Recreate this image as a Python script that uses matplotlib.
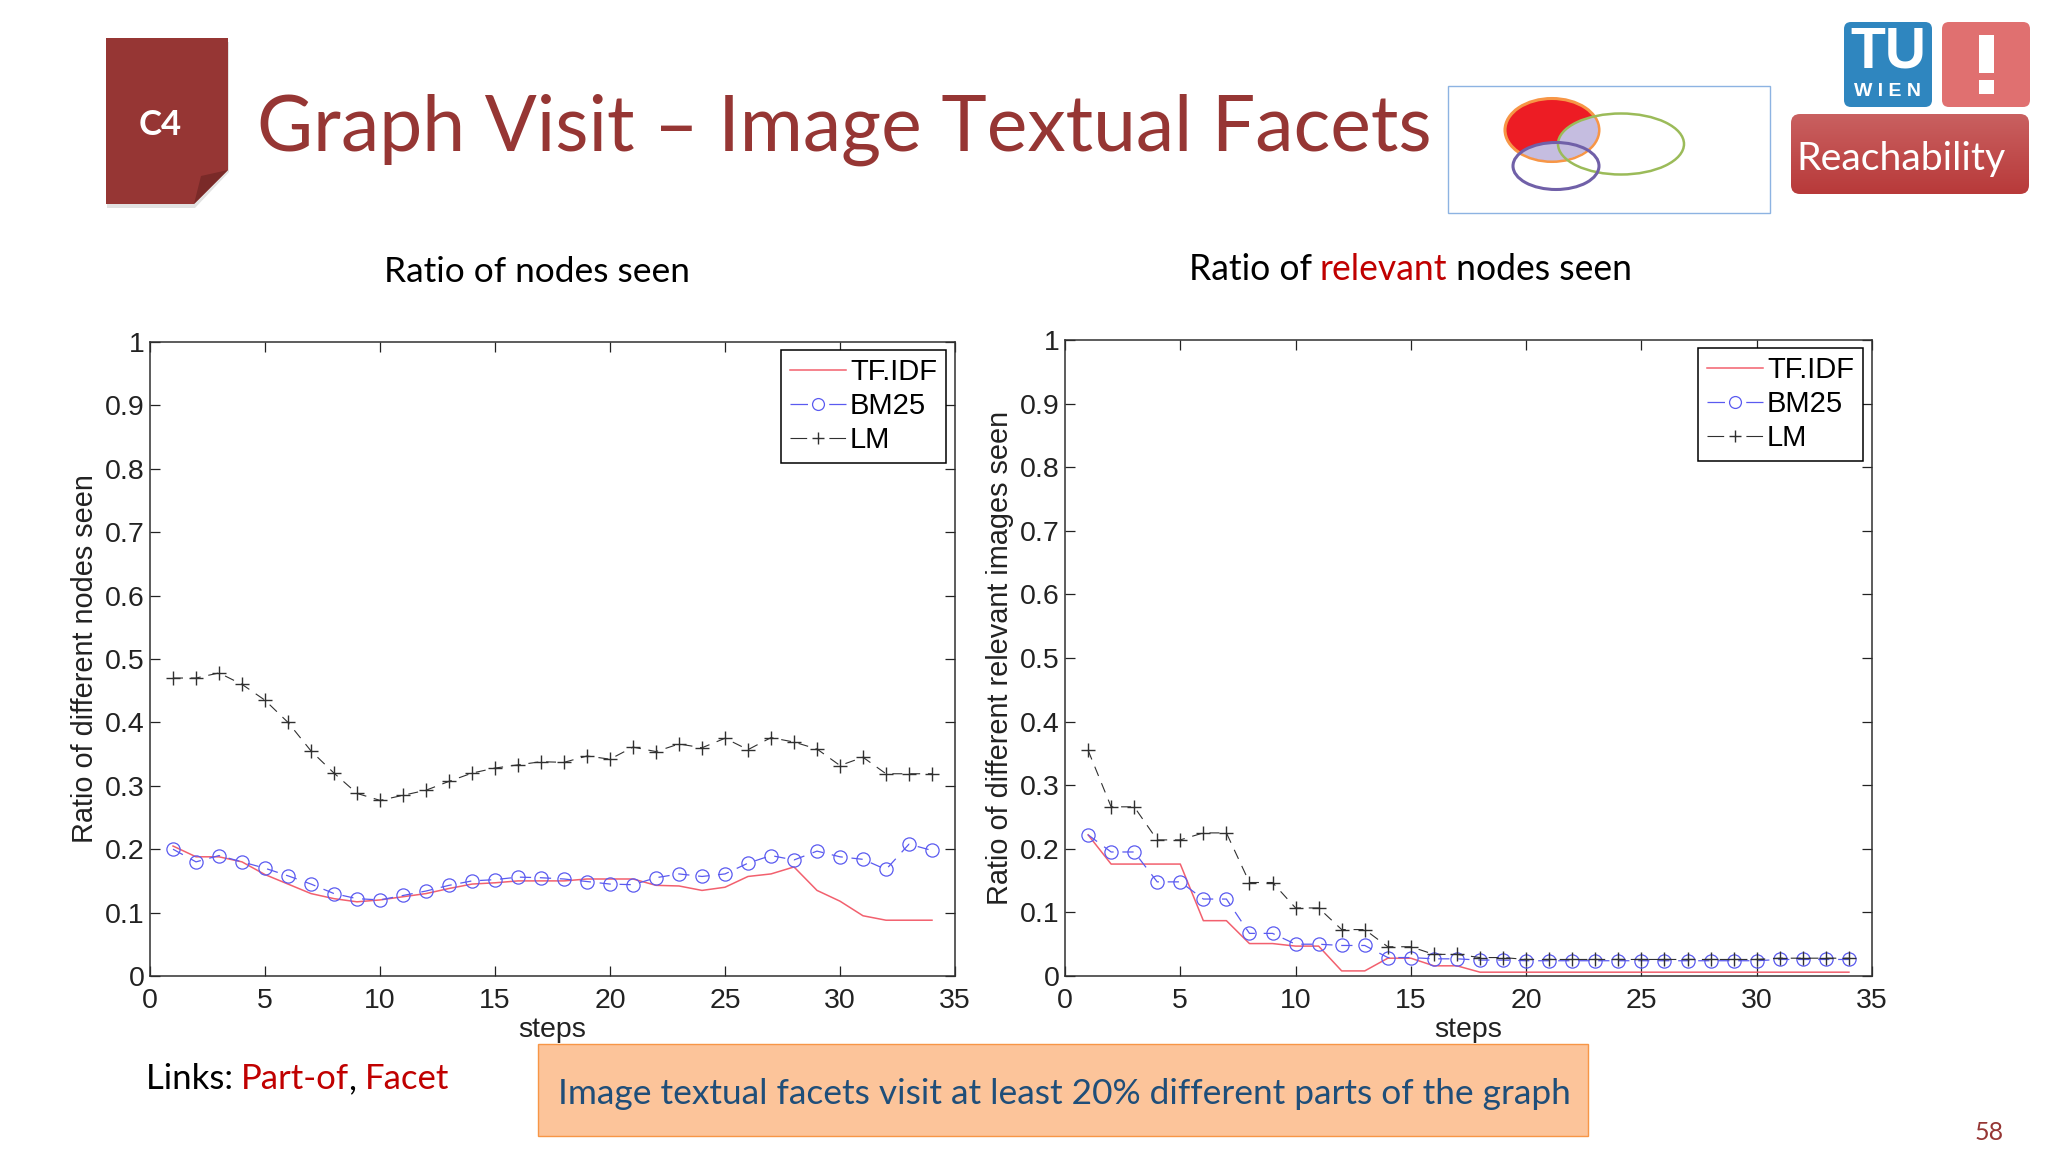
import numpy as np
import matplotlib
matplotlib.use('Agg')
import matplotlib.pyplot as plt
from matplotlib.patches import Polygon, Rectangle, Ellipse, FancyBboxPatch

steps = list(range(1, 35))

# left chart
nodes_tfidf = [.205, .188, .188, .18, .16, .145, .13, .122, .117, .12, .125, .13, .138, .145, .147, .15, .15,
               .15, .153, .153, .153, .143, .142, .135, .14, .157, .161, .172, .135, .118, .095, .088, .088, .088]
nodes_bm25 = [.2, .18, .19, .18, .17, .158, .145, .13, .122, .12, .127, .134, .143, .15, .152, .156, .155,
              .153, .149, .145, .144, .155, .161, .157, .161, .178, .19, .183, .197, .188, .184, .168, .208, .198]
nodes_lm = [.47, .47, .478, .46, .435, .40, .355, .32, .288, .277, .285, .293, .307, .32, .328, .333, .338,
            .337, .347, .342, .361, .354, .366, .36, .375, .357, .376, .369, .358, .332, .345, .319, .319, .319]

# right chart
rel_tfidf = [.222, .176, .176, .176, .176, .087, .087, .051, .051, .047, .047, .008, .008, .028, .028, .016, .016,
             .006, .006, .006, .006, .006, .006, .006, .006, .006, .006, .006, .006, .006, .006, .006, .006, .006]
rel_bm25 = [.222, .195, .195, .148, .148, .121, .121, .067, .067, .05, .05, .048, .048, .029, .029, .027, .027,
            .025, .025, .024, .024, .024, .024, .024, .024, .024, .024, .024, .024, .024, .026, .026, .026, .026]
rel_lm = [.355, .266, .266, .214, .214, .225, .225, .147, .147, .107, .107, .073, .073, .046, .046, .034, .034,
          .029, .029, .026, .026, .026, .026, .026, .026, .026, .026, .026, .026, .026, .028, .028, .028, .028]

xticks = [0, 5, 10, 15, 20, 25, 30, 35]
yticks = [0, .1, .2, .3, .4, .5, .6, .7, .8, .9, 1]
yticklabels = ['0', '0.1', '0.2', '0.3', '0.4', '0.5', '0.6', '0.7', '0.8', '0.9', '1']

W, H = 2048, 1152
RED = '#963634'
plt.rcParams['font.family'] = ['Liberation Sans', 'DejaVu Sans']

fig = plt.figure(figsize=(W / 100, H / 100), dpi=100)

# slide layer in pixel coordinates
bg = fig.add_axes([0, 0, 1, 1])
bg.set_xlim(0, W)
bg.set_ylim(H, 0)
bg.axis('off')


def rich_text(x, y, parts, size):
    # consecutive coloured pieces on one line
    r = fig.canvas.get_renderer()
    for s, c in parts:
        t = bg.text(x, y, s, color=c, fontsize=size, family='Lato', va='center', ha='left')
        t0 = bg.text(x, y, s.replace(' ', '.'), fontsize=size, family='Lato', alpha=0)
        x += t0.get_window_extent(r).width
        t0.remove()


# page icon
bg.add_patch(Polygon([(107, 42), (229, 42), (229, 172), (195, 208), (107, 208)], fc='#e2e2e2', ec='none'))
bg.add_patch(Polygon([(106, 38), (228, 38), (228, 170), (194, 204), (106, 204)], fc=RED, ec='none'))
bg.add_patch(Polygon([(201, 176), (228, 170), (194, 204)], fc='#7a2a28', ec='none'))
bg.text(160, 125, 'C4', color='white', fontsize=25, family='Lato', weight='bold', ha='center', va='center')
bg.text(257, 130, 'Graph Visit – Image Textual Facets', color=RED, fontsize=55.4, family='Lato', va='center')

# venn box
bg.add_patch(Rectangle((1448, 86), 322, 127, fc='white', ec='#8db3e2', lw=1))
bg.add_patch(Ellipse((1552, 130), 94, 63, fc='#ed1c24', ec='#f79646', lw=2.2))
clip_a = Ellipse((1552, 130), 92, 61, transform=bg.transData)
for el in [(1621, 144, 126, 61), (1556, 166, 86, 47)]:
    p = Ellipse((el[0], el[1]), el[2], el[3], fc='#c5bde0', ec='none')
    bg.add_patch(p)
    p.set_clip_path(clip_a)
    p.set_zorder(1.5)
bg.add_patch(Ellipse((1621, 144), 126, 61, fc='none', ec='#9bbb59', lw=1.8, zorder=2))
bg.add_patch(Ellipse((1556, 166), 86, 47, fc='none', ec='#7060a8', lw=2.2, zorder=2))

# logos
bg.add_patch(FancyBboxPatch((1849, 27), 78, 75, boxstyle='round,pad=5,rounding_size=7', fc='#2f86bf', ec='none'))
bg.text(1888, 52, 'TU', color='white', fontsize=41, weight='bold', ha='center', va='center')
bg.text(1888, 91, 'W I E N', color='white', fontsize=14, weight='bold', ha='center', va='center')
bg.add_patch(FancyBboxPatch((1947, 27), 78, 75, boxstyle='round,pad=5,rounding_size=7', fc='#e07070', ec='none'))
bg.add_patch(Rectangle((1979, 35), 15, 38, fc='white', ec='none'))
bg.add_patch(Rectangle((1979, 80), 15, 14, fc='white', ec='none'))

# reachability tab with gradient
tab = FancyBboxPatch((1796, 119), 228, 70, boxstyle='round,pad=5,rounding_size=9', fc='none', ec='none')
bg.add_patch(tab)
grad = np.linspace(0, 1, 64).reshape(-1, 1)
cmap = matplotlib.colors.LinearSegmentedColormap.from_list('tab', ['#c96060', '#b83a3a'])
im = bg.imshow(grad, extent=(1791, 2029, 194, 114), cmap=cmap, aspect='auto')
im.set_clip_path(tab)
bg.set_xlim(0, W)
bg.set_ylim(H, 0)
bg.text(1796, 159, 'Reachability', color='white', fontsize=28.3, family='Lato', va='center')

# headings
rich_text(384, 272, [('Ratio of nodes seen', 'black')], 25.4)
rich_text(1189, 269, [('Ratio of ', 'black'), ('relevant', '#c00000'), (' nodes seen', 'black')], 25.6)
rich_text(146, 1079, [('Links: ', 'black'), ('Part-of', '#c00000'), (', ', 'black'), ('Facet', '#c00000')], 25)

# callout
bg.add_patch(Rectangle((538, 1044), 1050, 92, fc='#fcc49a', ec='#f79646', lw=1))
bg.text(558, 1094, 'Image textual facets visit at least 20% different parts of the graph',
        color='#1f4e79', fontsize=25.4, family='Lato', va='center')
bg.text(1989, 1132, '58', color=RED, fontsize=18, family='Lato', ha='center', va='center')


def make_chart(rect, tfidf, bm25, lm, ylabel):
    l, t, r, b = rect
    ax = fig.add_axes([l / W, 1 - b / H, (r - l) / W, (b - t) / H])
    ax.patch.set_alpha(0)
    ax.plot(steps, tfidf, color='#f2606e', lw=1.1, label='TF.IDF')
    ax.plot(steps, bm25, color='#5a5af0', lw=0.9, ls=(0, (9, 7)), marker='o', ms=9.5, mfc='none',
            mew=0.9, label='BM25')
    ax.plot(steps, lm, color='#303030', lw=0.8, ls=(0, (9, 7)), marker='+', ms=9.5, mew=1.0, label='LM')
    ax.set_xlim(0, 35)
    ax.set_ylim(0, 1)
    ax.set_xticks(xticks)
    ax.set_yticks(yticks)
    ax.set_yticklabels(yticklabels)
    ax.tick_params(direction='in', top=True, right=True, length=7, width=0.9, labelsize=20.5, colors='#222222')
    ax.tick_params(axis='x', pad=9)
    ax.tick_params(axis='y', pad=4)
    for s in ax.spines.values():
        s.set_linewidth(1.1)
        s.set_color('#303030')
    ax.set_xlabel('steps', fontsize=20.5, labelpad=2, color='#222222')
    ax.set_ylabel(ylabel, fontsize=20.8, labelpad=4, color='#222222')
    leg = ax.legend(loc='upper right', bbox_to_anchor=(0.9885, 0.988), fontsize=21, fancybox=False, framealpha=1,
                    edgecolor='black', borderpad=0.3, labelspacing=0.2, handlelength=1.9, handletextpad=0.15,
                    borderaxespad=0, markerscale=0.9)
    leg.get_frame().set_linewidth(1.1)
    leg.get_lines()[1].set_linestyle((0, (14, 17)))
    leg.get_lines()[2].set_linestyle((0, (15, 20)))
    return ax


make_chart((150, 342, 955, 976), nodes_tfidf, nodes_bm25, nodes_lm, 'Ratio of different nodes seen')
make_chart((1065, 340, 1872, 976), rel_tfidf, rel_bm25, rel_lm, 'Ratio of different relevant images seen')

fig.savefig('out.png', dpi=100, facecolor='white')
